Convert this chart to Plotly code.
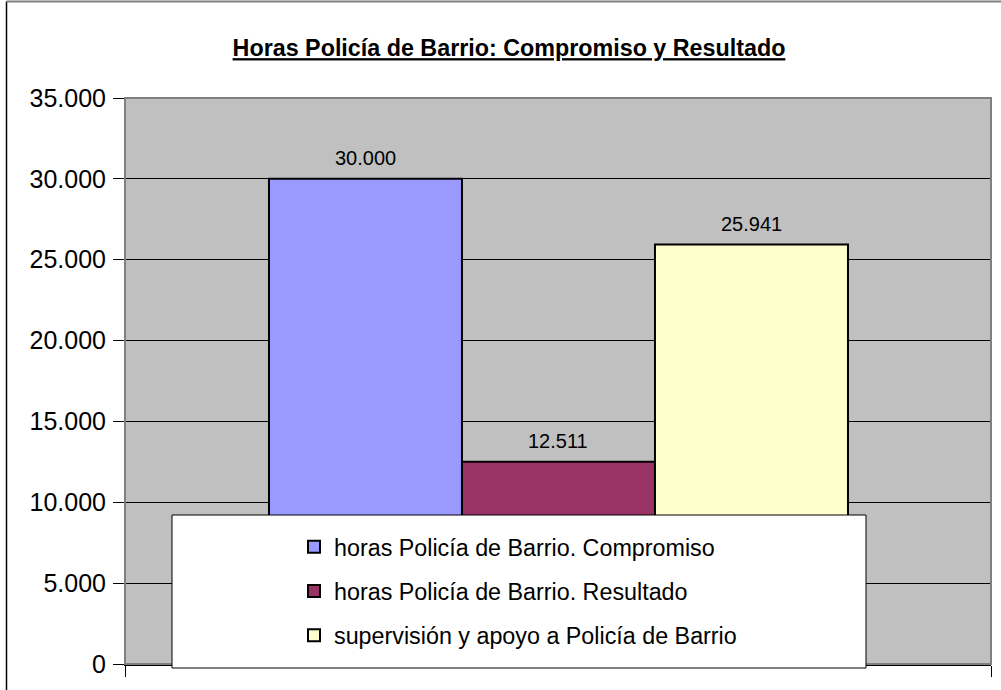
import plotly.graph_objects as go

# ---------------- data ----------------
title_text = "Horas Policía de Barrio: Compromiso y Resultado"
series_names = [
    "horas Policía de Barrio. Compromiso",
    "horas Policía de Barrio. Resultado",
    "supervisión y apoyo a Policía de Barrio",
]
series_values = [30000, 12511, 25941]
series_colors = ["#9999FF", "#993366", "#FFFFCC"]
y_tick_values = [0, 5000, 10000, 15000, 20000, 25000, 30000, 35000]


def fmt(v):
    return f"{v:,}".replace(",", ".")


# ---------------- geometry ----------------
W, H = 1001, 690
ML, MR, MT, MB = 125, 10, 98, 26
PW, PH = W - ML - MR, H - MT - MB
X0, X1 = -1.246, 3.241  # x range so bars sit where they do in the original


def px_x(px):
    return (px - ML) / PW


def px_y(py):
    return (H - MB - py) / PH


FONT = "Liberation Sans, Arial, sans-serif"

fig = go.Figure()
for i, (name, val, col) in enumerate(zip(series_names, series_values, series_colors)):
    fig.add_trace(go.Bar(
        x=[i], y=[val], width=[1], name=name,
        marker=dict(color=col, line=dict(color="black", width=2)),
        legendgroup=f"g{i}", hoverinfo="skip",
    ))
    fig.add_annotation(
        x=i, y=val, text=fmt(val), showarrow=False, yanchor="bottom",
        yshift=7.5, font=dict(family=FONT, size=20, color="black"),
    )

shapes = [
    # plot area border
    dict(type="rect", xref="paper", yref="paper", x0=0, x1=1, y0=0, y1=1,
         line=dict(color="#808080", width=2), layer="above"),
    # legend box
    dict(type="rect", xref="paper", yref="paper",
         x0=px_x(172), x1=px_x(866), y0=px_y(668), y1=px_y(515),
         fillcolor="white", line=dict(color="black", width=1), layer="above"),
    # outer chart border (left and top)
    dict(type="line", xref="paper", yref="paper",
         x0=px_x(6.5), x1=px_x(6.5), y0=px_y(1.5), y1=px_y(720),
         line=dict(color="black", width=1.5), layer="above"),
    dict(type="line", xref="paper", yref="paper",
         x0=px_x(6.5), x1=px_x(1030), y0=px_y(1.5), y1=px_y(1.5),
         line=dict(color="#808080", width=2), layer="above"),
]

fig.update_layout(
    width=W, height=H,
    margin=dict(l=ML, r=MR, t=MT, b=MB, autoexpand=False),
    paper_bgcolor="white", plot_bgcolor="#C0C0C0",
    barmode="overlay",
    font=dict(family=FONT, color="black"),
    title=dict(
        text=f"<b>{title_text}</b>",
        font=dict(family=FONT, size=23.3, color="black", lineposition="under"),
        x=509 / W, xref="container", xanchor="center",
        y=1 - 48 / H, yref="container", yanchor="middle",
    ),
    showlegend=True,
    legend=dict(
        x=px_x(294), y=px_y(525), xanchor="left", yanchor="top",
        bgcolor="rgba(0,0,0,0)", borderwidth=0,
        font=dict(family=FONT, size=23.3, color="black"),
        tracegroupgap=11, traceorder="grouped",
    ),
    shapes=shapes,
    xaxis=dict(
        range=[X0, X1], showgrid=False, zeroline=False,
        showline=True, linecolor="black", linewidth=1.5,
        tickvals=[X0, X1], ticks="outside", ticklen=11, tickcolor="black",
        showticklabels=False, fixedrange=True,
    ),
    yaxis=dict(
        range=[0, 35000], tickvals=y_tick_values,
        ticktext=[fmt(v) for v in y_tick_values],
        showgrid=True, gridcolor="black", gridwidth=1, zeroline=False,
        showline=True, linecolor="black", linewidth=1,
        ticks="outside", ticklen=11, tickcolor="black",
        ticklabelstandoff=2,
        tickfont=dict(family=FONT, size=25, color="black"),
        fixedrange=True,
    ),
)

fig.write_html(
    "out.html",
    config={"displayModeBar": False},
    post_script="document.body.style.margin='0';document.body.style.overflow='hidden';",
)
